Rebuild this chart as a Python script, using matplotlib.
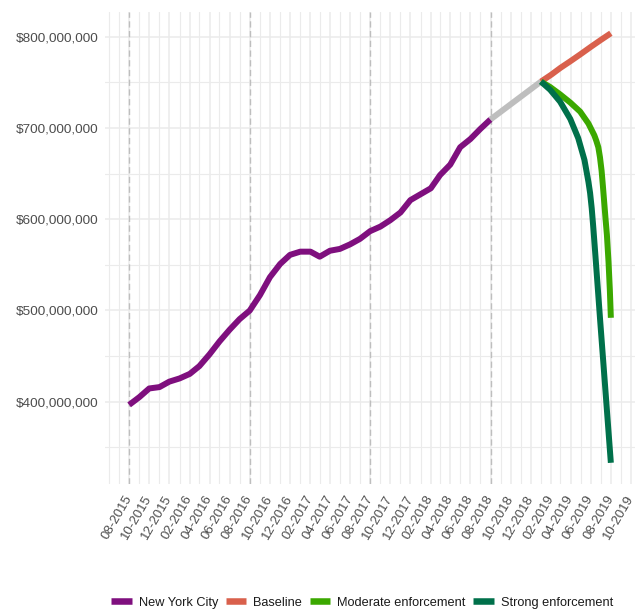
import datetime as dt
import matplotlib
matplotlib.use('Agg')
import matplotlib.pyplot as plt
import matplotlib.dates as mdates
from matplotlib.lines import Line2D
from matplotlib.ticker import FuncFormatter, MultipleLocator, FixedLocator

plt.rcParams['font.family'] = ['Liberation Sans', 'DejaVu Sans']


# data (values in millions of dollars)

# monthly, 08-2015 .. 08-2018
nyc_values = [396.5, 405, 414.5, 416, 422, 425.5, 430.5, 439, 452, 466, 479, 490.5, 500,
              517, 536.5, 551, 561, 564.5, 564.5, 559, 565.5, 567.5, 572.5, 578.5, 587,
              592, 599, 607.5, 621, 627.5, 634, 648.5, 660, 679, 688, 699, 709.5]

gap_dates = ['2018-08-01', '2019-01-01']
gap_values = [709.5, 751]

# monthly, 01-2019 .. 08-2019
baseline_values = [751, 758.5, 766, 773.5, 781, 789, 796.5, 804]

moderate_dates = ['2019-01-01', '2019-01-29', '2019-02-28', '2019-03-31', '2019-04-30',
                  '2019-05-25', '2019-06-12', '2019-06-18', '2019-06-24', '2019-06-29',
                  '2019-07-04', '2019-07-08', '2019-07-12', '2019-07-16', '2019-07-20',
                  '2019-07-25', '2019-07-29', '2019-08-01']
moderate_values = [751, 745, 737, 728, 718, 705, 692, 686, 679, 668,
                   653, 636, 618, 600, 583, 553, 522, 492]

strong_dates = ['2019-01-01', '2019-01-29', '2019-02-28', '2019-03-31', '2019-04-24',
                '2019-05-13', '2019-05-25', '2019-05-30', '2019-06-04', '2019-06-09',
                '2019-06-15', '2019-06-30', '2019-07-15', '2019-08-01']
strong_values = [751, 742, 729, 710, 689, 665, 641, 629, 612, 590, 561, 487, 415, 333]

year_marks = ['2015-08-01', '2016-08-01', '2017-08-01', '2018-08-01']

colors = {
    'New York City': '#7F0F7E',
    'Baseline': '#D9604C',
    'Moderate enforcement': '#3BA800',
    'Strong enforcement': '#00704A',
}
GAP_COLOR = '#BEBEBE'
GRID = '#EBEBEB'


# helpers
def months(year, month, n):
    out = []
    for i in range(n):
        m = month - 1 + i
        out.append(dt.date(year + m // 12, m % 12 + 1, 1))
    return out

def toDates(lst):
    return [dt.datetime.strptime(s, '%Y-%m-%d').date() for s in lst]

def dollars(v):
    return [x * 1e6 for x in v]


fig = plt.figure(figsize=(6.42, 6.13), dpi=100)
ax = fig.add_axes([0.1636, 0.2100, 0.8254, 0.7708])

lw = 4.3
style = dict(lw=lw, solid_capstyle='butt', solid_joinstyle='round', zorder=3)

for d in toDates(year_marks):
    ax.axvline(d, color=GAP_COLOR, lw=1.0, ls=(0, (4.5, 2.5)), zorder=2)

ax.plot(months(2015, 8, len(nyc_values)), dollars(nyc_values),
        color=colors['New York City'], **style)
ax.plot(toDates(gap_dates), dollars(gap_values), color=GAP_COLOR, **style)
ax.plot(months(2019, 1, len(baseline_values)), dollars(baseline_values),
        color=colors['Baseline'], **style)
ax.plot(toDates(moderate_dates), dollars(moderate_values),
        color=colors['Moderate enforcement'], **style)
ax.plot(toDates(strong_dates), dollars(strong_values),
        color=colors['Strong enforcement'], **style)

ax.margins(x=0.05, y=0.05)

# x axis: labels every 2 months, grid every month
major = [d for i, d in enumerate(months(2015, 8, 51)) if i % 2 == 0]
ax.xaxis.set_major_locator(FixedLocator(mdates.date2num(major)))
ax.xaxis.set_minor_locator(mdates.MonthLocator())
ax.xaxis.set_major_formatter(mdates.DateFormatter('%m-%Y'))
plt.setp(ax.get_xticklabels(), rotation=60, ha='right', va='center', rotation_mode='anchor')

ax.yaxis.set_major_locator(MultipleLocator(100e6))
ax.yaxis.set_minor_locator(MultipleLocator(50e6))
ax.yaxis.set_major_formatter(FuncFormatter(lambda v, p: '${:,.0f}'.format(v)))

ax.grid(which='major', color=GRID, lw=1.1, zorder=0)
ax.grid(which='minor', color=GRID, lw=0.8, zorder=0)
ax.set_axisbelow(True)
for s in ax.spines.values():
    s.set_visible(False)
ax.tick_params(which='both', length=0, labelcolor='#4D4D4D')
ax.tick_params(axis='y', pad=5, labelsize=9.7)
ax.tick_params(axis='x', pad=8.5, labelsize=9.5)

handles = [Line2D([0], [0], color=c, lw=lw + 0.4, solid_capstyle='butt') for c in colors.values()]
fig.legend(handles, list(colors.keys()), loc='center', bbox_to_anchor=(0.564, 0.017),
           ncol=4, frameon=False, fontsize=9.2, handlelength=1.6, handletextpad=0.55,
           columnspacing=0.6, labelcolor='#1A1A1A')

fig.savefig('out.png', dpi=100)
